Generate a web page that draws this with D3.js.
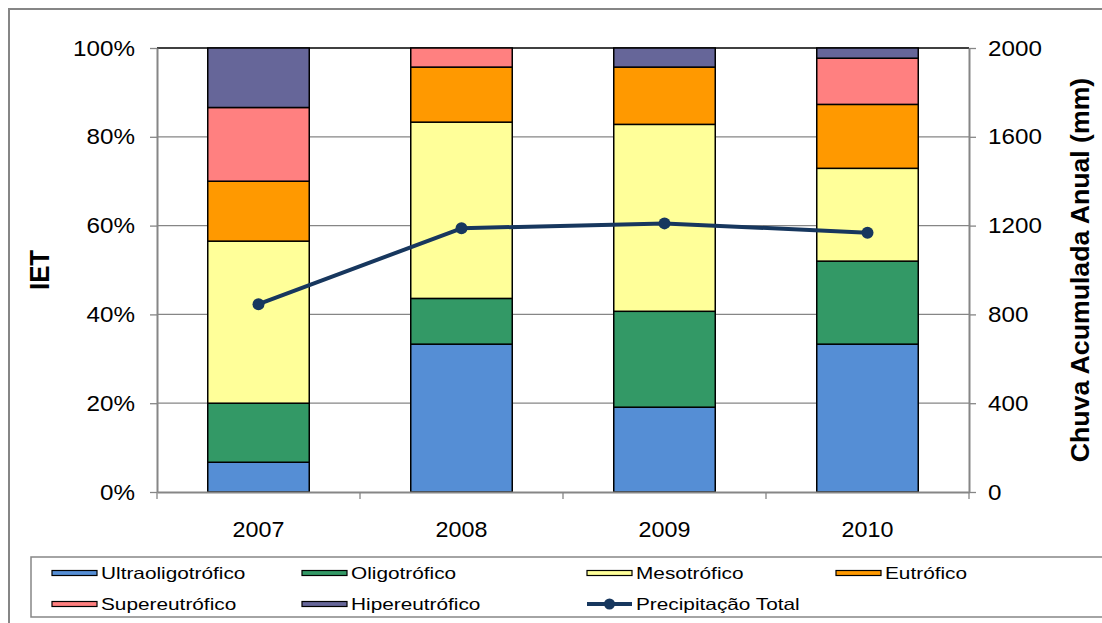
<!DOCTYPE html>
<html>
<head>
<meta charset="utf-8">
<script src="https://cdn.jsdelivr.net/npm/d3@7"></script>
<style>
  html, body { margin: 0; padding: 0; background: #fff; }
  svg { display: block; font-family: "Liberation Sans", Arial, sans-serif; }
</style>
</head>
<body>
<svg id="chart" width="1102" height="623"></svg>
<script>
// ---- data ----
const years = ["2007", "2008", "2009", "2010"];
const ultraoligotrofico = [6.7, 33.3, 19.1, 33.3];
const oligotrofico      = [13.3, 10.3, 21.6, 18.7];
const mesotrofico       = [36.5, 39.7, 42.1, 20.9];
const eutrofico         = [13.5, 12.4, 12.9, 14.4];
const supereutrofico    = [16.6, 4.3, 0, 10.4];
const hipereutrofico    = [13.4, 0, 4.3, 2.3];
const precipitacao      = [846, 1188, 1210, 1168];
const seriesNames = ["Ultraoligotrófico", "Oligotrófico", "Mesotrófico", "Eutrófico", "Supereutrófico", "Hipereutrófico"];
const lineName = "Precipitação Total";
const pctTicks = [0, 20, 40, 60, 80, 100];
const mmTicks = [0, 400, 800, 1200, 1600, 2000];
const leftTitle = "IET";
const rightTitle = "Chuva Acumulada Anual (mm)";

// ---- styles ----
const colors = ["#558ED5", "#339966", "#FFFF99", "#FF9900", "#FF8080", "#666699"];
const lineColor = "#17375E";
const gray = "#868686";

const svg = d3.select("#chart");
const L = 157, R = 969, T = 48, B = 492;

function stretch(sel, f) {
  sel.each(function () {
    const l = this.getComputedTextLength();
    d3.select(this).attr("textLength", l * f).attr("lengthAdjust", "spacingAndGlyphs");
  });
}

// outer frame
svg.append("rect").attr("x", 9).attr("y", 9).attr("width", 1110).attr("height", 640)
  .attr("fill", "none").attr("stroke", gray).attr("stroke-width", 2);

const x = d3.scaleBand().domain(years).range([L, R]).paddingInner(0.5).paddingOuter(0.25);
const y = d3.scaleLinear().domain([0, 100]).range([B, T]);
const y2 = d3.scaleLinear().domain([0, 2000]).range([B, T]);

// gridlines
svg.append("g").selectAll("line").data(pctTicks.filter(d => d > 0 && d < 100)).join("line")
  .attr("x1", L).attr("x2", R).attr("y1", d => y(d)).attr("y2", d => y(d))
  .attr("stroke", gray).attr("stroke-width", 1.3);

// stacked data
const table = years.map((yr, i) => ({
  year: yr,
  s0: ultraoligotrofico[i], s1: oligotrofico[i], s2: mesotrofico[i],
  s3: eutrofico[i], s4: supereutrofico[i], s5: hipereutrofico[i]
}));
const keys = ["s0", "s1", "s2", "s3", "s4", "s5"];
const stacked = d3.stack().keys(keys)(table);

// top border line of plot
svg.append("line").attr("x1", L).attr("x2", R).attr("y1", T).attr("y2", T)
  .attr("stroke", "#000").attr("stroke-width", 1.5);

const barG = svg.append("g");
stacked.forEach((layer, k) => {
  barG.append("g").attr("fill", colors[k]).selectAll("rect")
    .data(layer.filter(d => d[1] - d[0] > 0)).join("rect")
    .attr("x", d => x(d.data.year))
    .attr("width", x.bandwidth())
    .attr("y", d => y(d[1]))
    .attr("height", d => y(d[0]) - y(d[1]))
    .attr("stroke", "#000").attr("stroke-width", 1.5);
});

// axes
const leftAxis = svg.append("g").attr("transform", `translate(${L},0)`)
  .call(d3.axisLeft(y).tickValues(pctTicks).tickFormat(d => d + "%").tickSize(7).tickPadding(15).tickSizeOuter(0));
const rightAxis = svg.append("g").attr("transform", `translate(${R},0)`)
  .call(d3.axisRight(y2).tickValues(mmTicks).tickFormat(d3.format("d")).tickSize(7).tickPadding(12).tickSizeOuter(0));
[leftAxis, rightAxis].forEach(a => {
  a.select(".domain").attr("stroke", gray).attr("stroke-width", 2);
  a.selectAll(".tick line").attr("stroke", gray).attr("stroke-width", 1.3);
  a.selectAll(".tick text").attr("font-size", 22).attr("fill", "#000")
    .attr("font-family", "Liberation Sans, Arial, sans-serif");
});

// x axis
const xAxis = svg.append("g").attr("transform", `translate(0,${B})`)
  .call(d3.axisBottom(x).tickSize(0).tickPadding(29).tickSizeOuter(0));
xAxis.select(".domain").attr("stroke", gray).attr("stroke-width", 2);
xAxis.selectAll(".tick text").attr("font-size", 22).attr("fill", "#000")
  .attr("font-family", "Liberation Sans, Arial, sans-serif");
const gap = (x.step() - x.bandwidth()) / 2;
const bounds = years.map(yv => x(yv) - gap).concat([x(years[years.length - 1]) + x.bandwidth() + gap]);
xAxis.append("g").selectAll("line").data(bounds).join("line")
  .attr("x1", d => d).attr("x2", d => d).attr("y1", 0).attr("y2", 7)
  .attr("stroke", gray).attr("stroke-width", 1.3);

stretch(leftAxis.selectAll(".tick text"), 1.1);
stretch(rightAxis.selectAll(".tick text"), 1.1);
stretch(xAxis.selectAll(".tick text"), 1.06);

// line
const pts = years.map((yr, i) => [x(yr) + x.bandwidth() / 2, y2(precipitacao[i])]);
svg.append("path").attr("d", d3.line()(pts)).attr("fill", "none")
  .attr("stroke", lineColor).attr("stroke-width", 4).attr("stroke-linejoin", "round");
svg.append("g").selectAll("circle").data(pts).join("circle")
  .attr("cx", d => d[0]).attr("cy", d => d[1]).attr("r", 6).attr("fill", lineColor);

// axis titles
const lt = svg.append("text").attr("transform", `translate(49,${(T + B) / 2}) rotate(-90)`)
  .attr("text-anchor", "middle").attr("font-size", 28).attr("font-weight", "bold").text(leftTitle);
stretch(lt, 0.92);
const rt = svg.append("text").attr("transform", `translate(1089,${(T + B) / 2}) rotate(-90)`)
  .attr("text-anchor", "middle").attr("font-size", 25).attr("font-weight", "bold").text(rightTitle);
stretch(rt, 1.066);

// legend
svg.append("rect").attr("x", 31).attr("y", 557).attr("width", 1100).attr("height", 60)
  .attr("fill", "#fff").attr("stroke", gray).attr("stroke-width", 1.5);
const colX = [52, 302, 587, 836];
const rowY = [573, 604];
const legendItems = seriesNames.map((n, i) => ({ name: n, color: colors[i], type: "bar" }))
  .concat([{ name: lineName, color: lineColor, type: "line" }]);
const lg = svg.append("g");
legendItems.forEach((it, i) => {
  const cx = colX[i % 4], cy = rowY[Math.floor(i / 4)];
  if (it.type === "bar") {
    lg.append("rect").attr("x", cx).attr("y", cy - 2.5).attr("width", 45).attr("height", 5)
      .attr("fill", it.color).attr("stroke", "#000").attr("stroke-width", 1.2);
  } else {
    lg.append("line").attr("x1", cx).attr("x2", cx + 45).attr("y1", cy).attr("y2", cy)
      .attr("stroke", it.color).attr("stroke-width", 4);
    lg.append("circle").attr("cx", cx + 22.5).attr("cy", cy).attr("r", 5.5).attr("fill", it.color);
  }
  const t = lg.append("text").attr("x", cx + 49).attr("y", cy + 6).attr("font-size", 16.5)
    .attr("fill", "#000").text(it.name);
  stretch(t, 1.26);
});
</script>
</body>
</html>
